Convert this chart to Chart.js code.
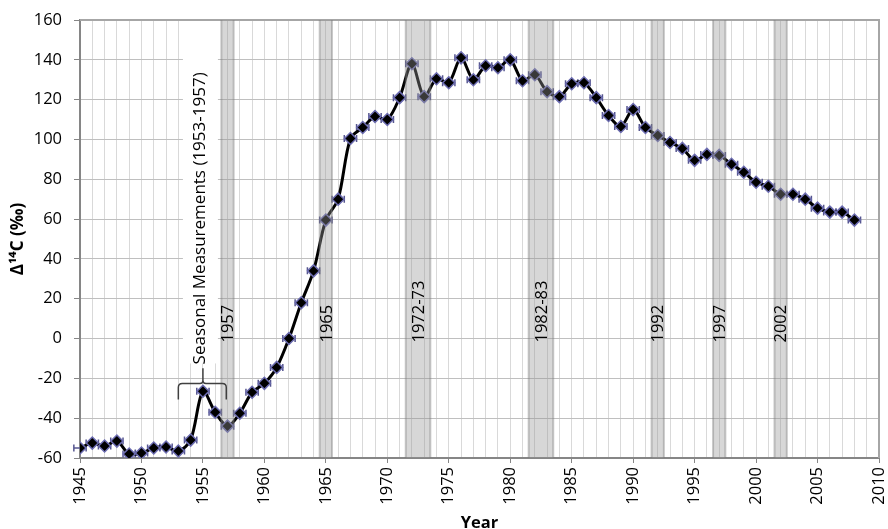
<!DOCTYPE html>
<html>
<head>
<meta charset="utf-8">
<script src="https://cdn.jsdelivr.net/npm/chart.js@4"></script>
<style>
html,body{margin:0;padding:0;background:#fff;}
canvas{display:block;}
</style>
</head>
<body>
<canvas id="c" width="888" height="529"></canvas>
<script>
// year of each measurement and its Δ14C value (‰)
var years = [1945, 1946, 1947, 1948, 1949, 1950, 1951, 1952, 1953, 1954,
  1955, 1956, 1957, 1958, 1959, 1960, 1961, 1962, 1963, 1964,
  1965, 1966, 1967, 1968, 1969, 1970, 1971, 1972, 1973, 1974,
  1975, 1976, 1977, 1978, 1979, 1980, 1981, 1982, 1983, 1984,
  1985, 1986, 1987, 1988, 1989, 1990, 1991, 1992, 1993, 1994,
  1995, 1996, 1997, 1998, 1999, 2000, 2001, 2002, 2003, 2004,
  2005, 2006, 2007, 2008];
var d14c = [-55, -52.5, -54, -51.5, -58, -57.5, -55, -54.5, -56.5, -51,
  -26.5, -37, -44, -37.5, -27, -22.5, -14.5, 0, 18, 34,
  59.5, 70, 100.5, 106, 111.5, 110, 121, 138, 121.5, 130.5,
  128.5, 141, 130, 137, 136, 140, 129.5, 132.5, 124, 121.5,
  128, 128.5, 121, 112, 106.5, 115, 106, 102, 98.5, 95.5,
  89.5, 92.5, 92, 87.5, 83.5, 78.5, 76.5, 72.5, 72.5, 70,
  65.5, 63.5, 63.5, 59.5];
var yearErr = 0.5;

// shaded sample years
var bandStart = [1956.5, 1964.5, 1971.5, 1981.5, 1991.5, 1996.5, 2001.5];
var bandEnd = [1957.5, 1965.5, 1973.5, 1983.5, 1992.5, 1997.5, 2002.5];
var bandLabels = ['1957', '1965', '1972-73', '1982-83', '1992', '1997', '2002'];

var seasonalText = 'Seasonal Measurements (1953-1957)';
var seasonalFrom = 1953, seasonalTo = 1957;

var FONT = "'Open Sans', sans-serif";

var overlay = {
  id: 'overlay',
  beforeDatasetsDraw: function(chart) {
    var ctx = chart.ctx, a = chart.chartArea, x = chart.scales.x, y = chart.scales.y;
    ctx.save();
    // frame top + right
    ctx.strokeStyle = '#a6a6a6';
    ctx.lineWidth = 2;
    ctx.beginPath();
    ctx.moveTo(a.left, a.top);
    ctx.lineTo(a.right, a.top);
    ctx.lineTo(a.right, a.bottom);
    ctx.stroke();
    // white box behind the seasonal label
    var cx = x.getPixelForValue((seasonalFrom + seasonalTo) / 2) - 3;
    ctx.fillStyle = '#fff';
    ctx.fillRect(cx - 17, a.top + 1, 35, y.getPixelForValue(-12) - a.top);
    // horizontal error bars
    ctx.strokeStyle = '#55558f';
    ctx.lineWidth = 1.5;
    for (var i = 0; i < years.length; i++) {
      var x1 = x.getPixelForValue(years[i] - yearErr);
      var x2 = x.getPixelForValue(years[i] + yearErr);
      var py = y.getPixelForValue(d14c[i]);
      ctx.beginPath();
      ctx.moveTo(x1, py); ctx.lineTo(x2, py);
      ctx.moveTo(x1, py - 3.5); ctx.lineTo(x1, py + 3.5);
      ctx.moveTo(x2, py - 3.5); ctx.lineTo(x2, py + 3.5);
      ctx.stroke();
    }
    ctx.restore();
  },
  afterDatasetsDraw: function(chart) {
    var ctx = chart.ctx, a = chart.chartArea, x = chart.scales.x, y = chart.scales.y;
    ctx.save();
    // grey bands
    for (var i = 0; i < bandStart.length; i++) {
      var l = x.getPixelForValue(bandStart[i]), r = x.getPixelForValue(bandEnd[i]);
      ctx.fillStyle = 'rgba(150,150,150,0.38)';
      ctx.fillRect(l, a.top, r - l, a.bottom - a.top);
      ctx.strokeStyle = 'rgba(120,120,120,0.4)';
      ctx.lineWidth = 2;
      ctx.beginPath();
      ctx.moveTo(l, a.top); ctx.lineTo(l, a.bottom);
      ctx.moveTo(r, a.top); ctx.lineTo(r, a.bottom);
      ctx.stroke();
    }
    // band labels
    ctx.fillStyle = '#000';
    ctx.font = '16.5px ' + FONT;
    ctx.textAlign = 'left';
    ctx.textBaseline = 'middle';
    for (var j = 0; j < bandLabels.length; j++) {
      var bx = x.getPixelForValue((bandStart[j] + bandEnd[j]) / 2) + 1;
      ctx.save();
      ctx.translate(bx, y.getPixelForValue(-2));
      ctx.rotate(-Math.PI / 2);
      ctx.fillText(bandLabels[j], 0, 0);
      ctx.restore();
    }
    // seasonal label
    var cx = x.getPixelForValue((seasonalFrom + seasonalTo) / 2) - 3;
    ctx.font = '17px ' + FONT;
    ctx.save();
    ctx.translate(cx, y.getPixelForValue(-13));
    ctx.rotate(-Math.PI / 2);
    ctx.fillText(seasonalText, 0, 0);
    ctx.restore();
    // brace
    var b1 = x.getPixelForValue(seasonalFrom), b2 = x.getPixelForValue(seasonalTo - 0.1);
    var bm = x.getPixelForValue((seasonalFrom + seasonalTo) / 2);
    var by = y.getPixelForValue(-22.6), byEnd = y.getPixelForValue(-30.6), byTip = y.getPixelForValue(-14.9);
    ctx.strokeStyle = '#404040';
    ctx.lineWidth = 1.5;
    ctx.beginPath();
    ctx.moveTo(b1, byEnd);
    ctx.lineTo(b1, by + 4);
    ctx.quadraticCurveTo(b1, by, b1 + 4, by);
    ctx.lineTo(bm - 3, by);
    ctx.quadraticCurveTo(bm, by, bm, by - 3);
    ctx.lineTo(bm, byTip);
    ctx.moveTo(bm, by - 3);
    ctx.quadraticCurveTo(bm, by, bm + 3, by);
    ctx.lineTo(b2 - 4, by);
    ctx.quadraticCurveTo(b2, by, b2, by + 4);
    ctx.lineTo(b2, byEnd);
    ctx.stroke();
    ctx.restore();
  }
};

var points = years.map(function(yr, i) { return {x: yr, y: d14c[i]}; });

new Chart(document.getElementById('c'), {
  type: 'line',
  data: {
    datasets: [{
      data: points,
      borderColor: '#000',
      borderWidth: 3,
      tension: 0.3,
      pointStyle: 'rectRot',
      pointRadius: 6,
      pointBackgroundColor: '#000',
      pointBorderColor: '#6b6bb0',
      pointBorderWidth: 1.5
    }]
  },
  options: {
    responsive: false,
    animation: false,
    devicePixelRatio: 1,
    layout: { padding: { top: 20, right: 9, left: 0, bottom: 0 } },
    plugins: {
      legend: { display: false },
      tooltip: { enabled: false }
    },
    scales: {
      x: {
        type: 'linear',
        min: 1945,
        max: 2010,
        ticks: {
          stepSize: 1,
          autoSkip: false,
          minRotation: 90,
          maxRotation: 90,
          padding: 4,
          color: '#000',
          font: { size: 16.5, family: FONT },
          callback: function(v) { return v % 5 === 0 ? String(v) : ''; }
        },
        grid: {
          color: '#d9d9d9',
          tickLength: 5,
          tickColor: function(c) { return c.tick && c.tick.value % 5 === 0 ? '#868686' : 'rgba(0,0,0,0)'; }
        },
        border: { color: '#868686', width: 2 },
        title: {
          display: true,
          text: 'Year',
          color: '#000',
          font: { size: 16.5, weight: 'bold', family: FONT },
          padding: { top: 0, bottom: -4 }
        },
        afterFit: function(s) { s.height = 71; s.paddingLeft = 0; s.paddingRight = 0; }
      },
      y: {
        min: -60,
        max: 160,
        ticks: {
          stepSize: 20,
          padding: 12,
          color: '#000',
          font: { size: 16.5, family: FONT }
        },
        grid: { color: '#bfbfbf', tickLength: 6, tickColor: '#868686' },
        border: { color: '#868686', width: 2 },
        title: {
          display: true,
          text: 'Δ¹⁴C (‰)',
          color: '#000',
          font: { size: 17, weight: 'bold', family: FONT },
          padding: { top: 8, bottom: 0 }
        },
        afterFit: function(s) { s.width = 80; s.paddingTop = 0; s.paddingBottom = 0; }
      }
    }
  },
  plugins: [overlay]
});
</script>
</body>
</html>
